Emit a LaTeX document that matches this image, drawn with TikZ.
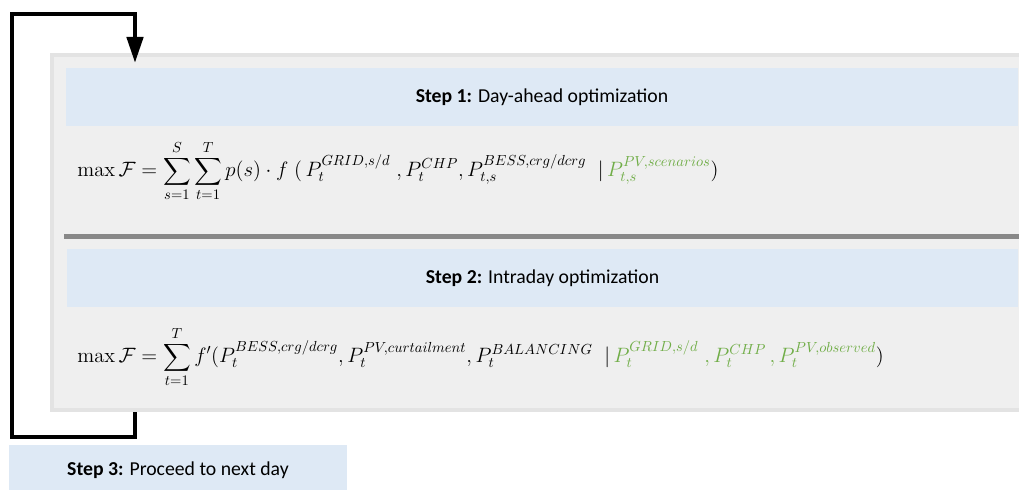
\RequirePackage{fix-cm}
\documentclass[tikz,border=0pt]{standalone}
\usepackage{amsmath}
\usepackage[no-math]{fontspec}
\setmainfont{Carlito}
\usetikzlibrary{arrows.meta}
\tikzset{>=latex}
\definecolor{bandblue}{HTML}{DEE9F5}
\definecolor{panelgrey}{HTML}{EFEFEF}
\definecolor{panelrim}{HTML}{E3E3E3}
\definecolor{rulegrey}{HTML}{888888}
\definecolor{pvgreen}{HTML}{70AD47}

\begin{document}
\begin{tikzpicture}[x=0.75pt,y=0.75pt,
    band/.style={fill=bandblue, minimum height=43.5pt, inner sep=0pt, font=\fontsize{14.8}{17}\selectfont},
    eqn/.style={anchor=west, inner sep=0pt, font=\fontsize{15.6}{18}\selectfont}]
    \useasboundingbox (0,0) rectangle (1019,489);
    \draw[panelrim, line width=3pt, fill=panelgrey] (52,434) rectangle (1045,79);
    \node[band, minimum width=714pt] (step1) at (542,392) {\textbf{Step 1:} Day-ahead optimization};
    \node[eqn] (eq1) at (77,318) {$\displaystyle \max\mathcal{F}=\sum_{s=1}^{S}\sum_{t=1}^{T}p(s)\cdot f\;(\,P_t^{GRID,s/d}\;,P_t^{CHP},P_{t,s}^{BESS,crg/dcrg}\;\;|\,\textcolor{pvgreen}{P_{t,s}^{PV,scenarios}})$};
    \draw[rulegrey, line width=3.75pt] (64,252.5) -- (1045,252.5);
    \node[band, minimum width=713pt] (step2) at (542.5,211) {\textbf{Step 2:} Intraday optimization};
    \node[eqn] (eq2) at (77,132) {$\displaystyle \max\mathcal{F}=\sum_{t=1}^{T}f'(P_t^{BESS,crg/dcrg},P_t^{PV,curtailment},P_t^{BALANCING}\;\;|\,\textcolor{pvgreen}{P_t^{GRID,s/d}\;,P_t^{CHP}\,,P_t^{PV,observed}})$};
    \node[band, minimum width=253.5pt, minimum height=37.5pt] (step3) at (178,19) {\textbf{Step 3:} Proceed to next day};
    % back to the day-ahead step
    \coordinate (loopout) at (135,77);
    \coordinate (loopin) at (135,426);
    \draw[line width=3.4pt, -{Triangle[length=19.5pt,width=12pt]}] (loopout) |- (12,52) |- (135,475) -- (loopin);
\end{tikzpicture}
\end{document}
